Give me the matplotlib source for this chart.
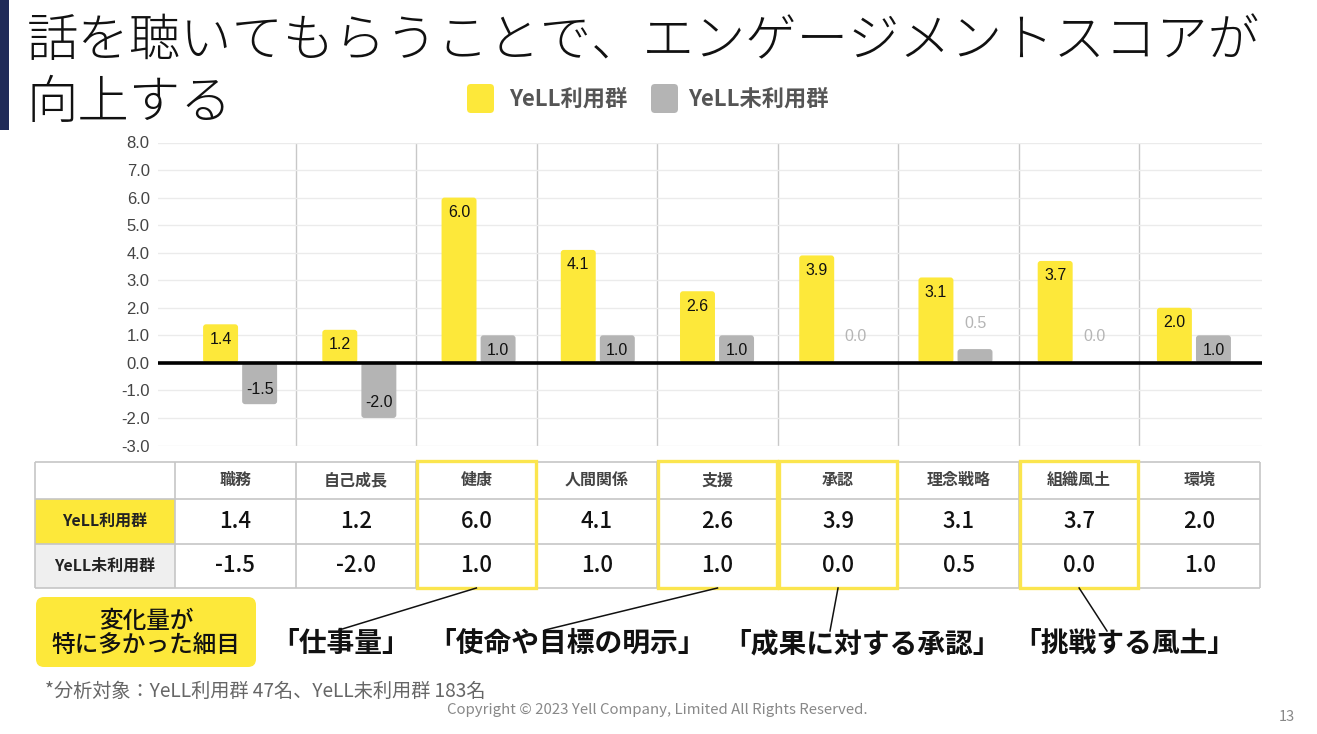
import numpy as np
import matplotlib
matplotlib.use("Agg")
import matplotlib.pyplot as plt
from matplotlib.patches import Rectangle, FancyBboxPatch

# ---------------- data ----------------
categories = ['職務', '自己成長', '健康', '人間関係', '支援', '承認', '理念戦略', '組織風土', '環境']
yell_users = [1.4, 1.2, 6.0, 4.1, 2.6, 3.9, 3.1, 3.7, 2.0]
non_users = [-1.5, -2.0, 1.0, 1.0, 1.0, 0.0, 0.5, 0.0, 1.0]
series_names = ['YeLL利用群', 'YeLL未利用群']
y_ticks = [-3, -2, -1, 0, 1, 2, 3, 4, 5, 6, 7, 8]
highlight = ['健康', '支援', '承認', '組織風土']
callouts = ['「仕事量」', '「使命や目標の明示」', '「成果に対する承認」', '「挑戦する風土」']
title_lines = ['話を聴いてもらうことで、エンゲージメントスコアが', '向上する']
box_lines = ['変化量が', '特に多かった細目']
footnote = '*分析対象：YeLL利用群 47名、YeLL未利用群 183名'
copyright_text = 'Copyright © 2023 Yell Company, Limited All Rights Reserved.'
page_no = '13'

# ---------------- style ----------------
YELLOW = '#FDE83A'
GRAY = '#B4B4B4'
NAVY = '#1F2B58'
plt.rcParams['font.family'] = ['Noto Sans CJK JP', 'DejaVu Sans']
NUMFONT = ['Liberation Sans', 'DejaVu Sans']

W, H = 1317, 734
fig = plt.figure(figsize=(W / 100, H / 100), dpi=100)
fig.patch.set_facecolor('white')


def px_axes(x0, y0, x1, y1, **kw):
    return fig.add_axes([x0 / W, 1 - y1 / H, (x1 - x0) / W, (y1 - y0) / H], **kw)


# ---------------- chart ----------------
col0_left, first_col_right, col_w, table_right = 35, 175, 120.55, 1260
ax_l, ax_r = 158, 1262
ax = px_axes(ax_l, 142.5, ax_r, 445.5)
ax.set_xlim(-(first_col_right - ax_l) / col_w, len(categories) + (ax_r - table_right) / col_w)
ax.set_ylim(min(y_ticks), max(y_ticks))
for s in ax.spines.values():
    s.set_visible(False)
ax.set_xticks([])
ax.set_yticks(y_ticks)
ax.set_yticklabels([f'{t:.1f}' for t in y_ticks], fontfamily=NUMFONT, fontsize=12, color='#444444')
ax.tick_params(axis='y', length=0, pad=6)
ax.yaxis.grid(True, color='#ebebeb', lw=1)
ax.set_axisbelow(True)
ax.vlines(np.arange(1, len(categories)), min(y_ticks), max(y_ticks), color='#c8c8c8', lw=1, zorder=0.5)

# bar groups are spaced slightly tighter than the grid columns in the original
x = 0.54 + np.arange(len(categories)) * 0.989
bw, off = 0.29, 0.162
b1 = ax.bar(x - off, yell_users, width=bw, color=YELLOW, zorder=2)
b2 = ax.bar(x + off, non_users, width=bw, color=GRAY, zorder=2)

# rounded corners
px_x = col_w
px_y = 303 / (max(y_ticks) - min(y_ticks))
for bars in (b1, b2):
    for r in bars:
        if r.get_height() == 0:
            r.set_visible(False)
            continue
        xx, yy = r.get_x(), r.get_y()
        w, h = r.get_width(), r.get_height()
        if h < 0:
            yy, h = yy + h, -h
        fb = FancyBboxPatch((xx, yy), w, h, boxstyle='round,pad=0,rounding_size=0.025',
                            mutation_aspect=px_x / px_y, facecolor=r.get_facecolor(),
                            edgecolor='none', zorder=2)
        r.set_visible(False)
        ax.add_patch(fb)

ax.axhline(0, color='black', lw=2.6, zorder=3)

for xs, vals in ((x - off, yell_users), (x + off, non_users)):
    for xi, v in zip(xs, vals):
        if abs(v) >= 1:
            dy = -15 if v > 0 else 15
            col = '#111111'
        else:
            dy = 26
            col = '#b5b5b5'
        ax.annotate(f'{v:.1f}', xy=(xi, v), xytext=(0, dy), textcoords='offset pixels',
                    ha='center', va='center', fontsize=11.5, fontfamily=NUMFONT, color=col, zorder=4)

# ---------------- table ----------------
tab_top, tab_bot = 461.5, 588
row_edges = [461.5, 499, 543.5, 588]
col_edges = [col0_left] + [first_col_right + col_w * k for k in range(len(categories) + 1)]
tax = px_axes(col0_left, tab_top, table_right, tab_bot)
tax.set_xlim(col0_left, table_right)
tax.set_ylim(tab_bot, tab_top)
tax.axis('off')

tax.add_patch(Rectangle((col_edges[0], row_edges[1]), col_edges[1] - col_edges[0],
                        row_edges[2] - row_edges[1], facecolor=YELLOW, edgecolor='none', zorder=1))
tax.add_patch(Rectangle((col_edges[0], row_edges[2]), col_edges[1] - col_edges[0],
                        row_edges[3] - row_edges[2], facecolor='#EFEFEF', edgecolor='none', zorder=1))
tax.hlines(row_edges, col_edges[0], col_edges[-1], color='#c6c6c6', lw=1.2, zorder=2, clip_on=False)
tax.vlines(col_edges, row_edges[0], row_edges[-1], color='#c6c6c6', lw=1.2, zorder=2, clip_on=False)

rc = [(row_edges[i] + row_edges[i + 1]) / 2 for i in range(3)]
c0 = (col_edges[0] + col_edges[1]) / 2
for name, y, in zip(series_names, rc[1:]):
    tax.text(c0, y, name, ha='center', va='center', fontsize=11.5, fontweight='bold', color='#222222', zorder=3)
for k, cat in enumerate(categories):
    cx = (col_edges[k + 1] + col_edges[k + 2]) / 2
    tax.text(cx, rc[0], cat, ha='center', va='center', fontsize=11.5, fontweight='bold', color='#444444', zorder=3)
    tax.text(cx, rc[1], f'{yell_users[k]:.1f}', ha='center', va='center', fontsize=16, fontweight='medium',
             color='#111111', zorder=3)
    tax.text(cx, rc[2], f'{non_users[k]:.1f}', ha='center', va='center', fontsize=16, fontweight='medium',
             color='#111111', zorder=3)

for cat in highlight:
    k = categories.index(cat)
    tax.add_patch(Rectangle((col_edges[k + 1] + 1, tab_top - 0.5), col_w - 2, tab_bot - tab_top,
                            fill=False, edgecolor='#FBE54E', lw=2.4, zorder=4, clip_on=False))

# ---------------- overlay (titles, legend, notes) ----------------
ov = fig.add_axes([0, 0, 1, 1], zorder=10)
ov.set_xlim(0, W)
ov.set_ylim(H, 0)
ov.axis('off')

ov.add_patch(Rectangle((0, 0), 9, 130, facecolor=NAVY, edgecolor='none'))
ov.text(27, 42, title_lines[0], fontsize=37, va='center', ha='left', color='#111111', fontweight='light')
ov.text(27, 103, title_lines[1], fontsize=37, va='center', ha='left', color='#111111', fontweight='light')

# legend
for (sx, tx), col, name in zip(((467, 509), (651, 688)), (YELLOW, GRAY), series_names):
    ov.add_patch(FancyBboxPatch((sx, 84), 27, 29, boxstyle='round,pad=0,rounding_size=4',
                                facecolor=col, edgecolor='none'))
    ov.text(tx, 99, name, fontsize=16, fontweight='bold', color='#555555', va='center', ha='left')

# callout box
ov.add_patch(FancyBboxPatch((36, 597), 220, 70, boxstyle='round,pad=0,rounding_size=8',
                            facecolor=YELLOW, edgecolor='none'))
ov.text(146, 621, box_lines[0], fontsize=17, fontweight='medium', ha='center', va='center', color='#111111')
ov.text(146, 646, box_lines[1], fontsize=17, fontweight='medium', ha='center', va='center', color='#111111')

# callouts with lines
call_text_x = [341, 567, 862, 1124]
call_line_end = [(339, 630), (545, 630), (830, 631), (1107, 631)]
for cat, txt, tx, (ex, ey) in zip(highlight, callouts, call_text_x, call_line_end):
    k = categories.index(cat)
    cx = (col_edges[k + 1] + col_edges[k + 2]) / 2
    ov.plot([cx, ex], [tab_bot, ey], color='#111111', lw=1.1)
    ov.text(tx, 644, txt, fontsize=20, fontweight='bold', ha='center', va='center', color='#111111')

ov.text(45, 691, footnote, fontsize=13.8, color='#666666', ha='left', va='center')
ov.text(657, 710, copyright_text, fontsize=10.8, color='#888888', ha='center', va='center')
ov.text(1287, 717, page_no, fontsize=10.5, color='#888888', ha='center', va='center')

fig.savefig('out.png', dpi=100)
